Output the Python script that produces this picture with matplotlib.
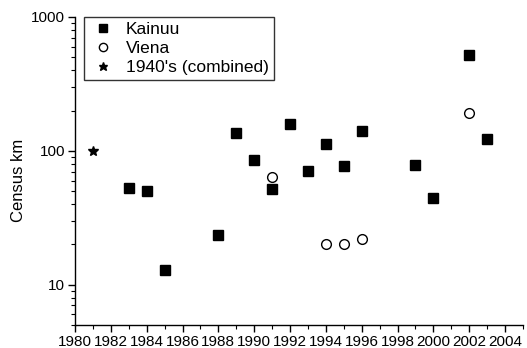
import matplotlib
matplotlib.use("Agg")
import matplotlib.pyplot as plt
from matplotlib.ticker import LogLocator, FixedLocator, NullFormatter, FixedFormatter

plt.rcParams['font.family'] = ['Liberation Sans', 'DejaVu Sans']

kainuu_years = [1983, 1984, 1985, 1988, 1989, 1990, 1991, 1992, 1993, 1994, 1995, 1996, 1999, 2000, 2002, 2003]
kainuu_vals = [53, 50, 12.9, 23.7, 136, 85, 51.6, 158, 71.3, 113, 76.8, 140, 78.5, 44.7, 516, 122]
viena_years = [1991, 1994, 1995, 1996, 2002]
viena_vals = [63.5, 20, 20, 21.8, 191]
comb_years = [1981]
comb_vals = [100]
x_major = list(range(1980, 2005, 2))
x_minor = list(range(1981, 2006, 2))
y_major = [10, 100, 1000]
y_labels = ['10', '100', '1000']

fig = plt.figure(figsize=(5.27, 3.48), dpi=100)
ax = fig.add_axes([75/527, 23/348, 448/527, 308/348])

ax.plot(kainuu_years, kainuu_vals, linestyle='none', marker='s', ms=6.8,
        mfc='black', mec='black', label='Kainuu', clip_on=False)
ax.plot(viena_years, viena_vals, linestyle='none', marker='o', ms=7.0,
        mfc='white', mec='black', mew=1.0, label='Viena', clip_on=False)
ax.plot(comb_years, comb_vals, linestyle='none', marker='*', ms=7.5,
        mfc='black', mec='black', label="1940's (combined)", clip_on=False)

ax.set_yscale('log')
ax.set_ylim(5, 1000)
ax.set_xlim(1980, 2005)

ax.yaxis.set_major_locator(FixedLocator(y_major))
ax.yaxis.set_major_formatter(FixedFormatter(y_labels))
ax.yaxis.set_minor_locator(LogLocator(base=10, subs=range(2, 10)))
ax.yaxis.set_minor_formatter(NullFormatter())
ax.xaxis.set_major_locator(FixedLocator(x_major))
ax.xaxis.set_minor_locator(FixedLocator(x_minor))

for s in ['top', 'right']:
    ax.spines[s].set_visible(False)
for s in ['left', 'bottom']:
    ax.spines[s].set_linewidth(1.0)

ax.tick_params(which='major', direction='out', length=5, width=1.0, labelsize=11, pad=2)
ax.tick_params(which='minor', direction='out', length=3, width=0.8)

ax.set_ylabel('Census km', fontsize=12)
ax.yaxis.set_label_coords(-0.11, 0.47)

leg = ax.legend(loc='upper left', bbox_to_anchor=(9/448, 1.0), fontsize=12.5,
                frameon=True, fancybox=False, edgecolor='black',
                borderpad=0.3, labelspacing=0.2, handletextpad=0.5,
                handlelength=1.6, borderaxespad=0.0, markerscale=0.85)
leg.get_frame().set_linewidth(1.0)

fig.savefig('out.png', dpi=100)
